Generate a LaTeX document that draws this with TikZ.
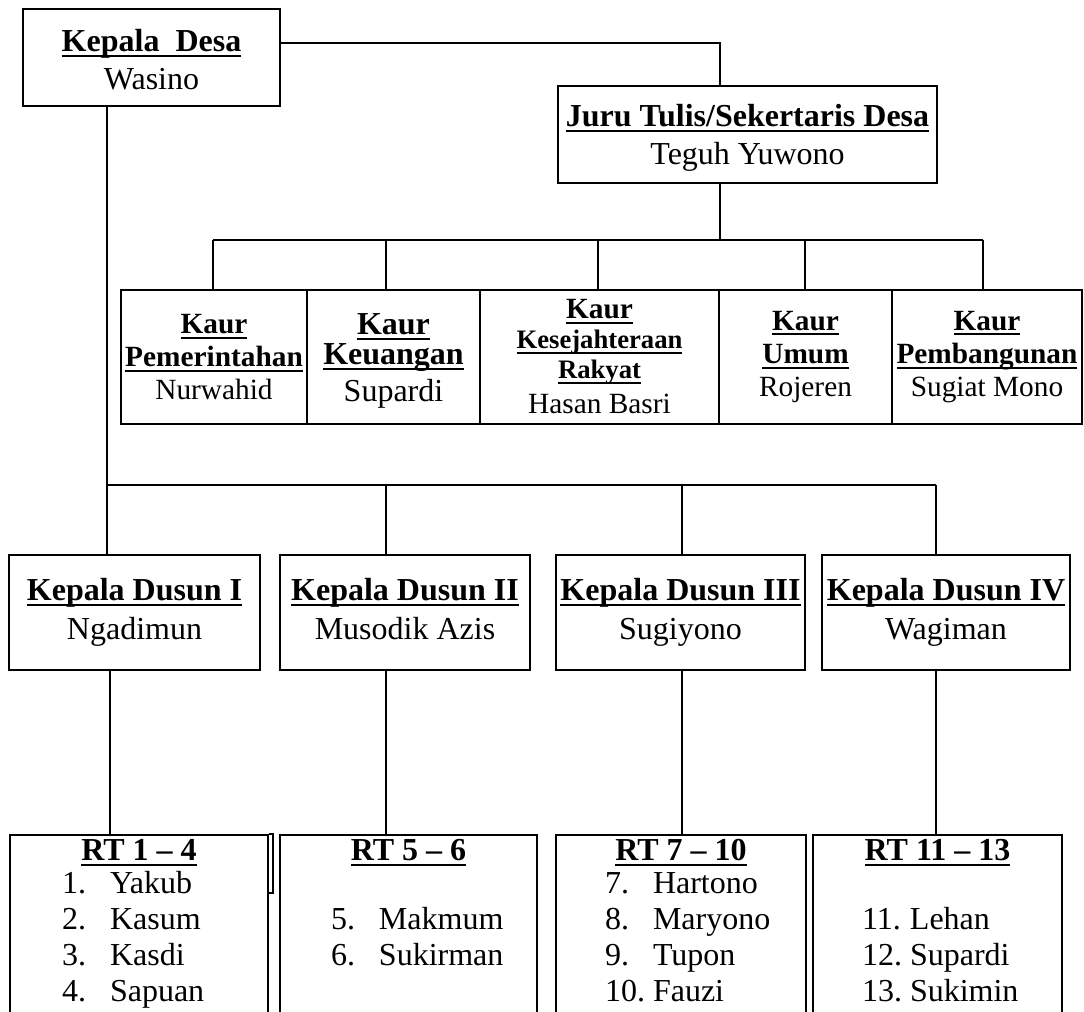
\documentclass[tikz,border=0pt]{standalone}
\usepackage{fontspec}
\setmainfont{Liberation Serif}
\newcommand{\garis}[1]{\setbox0\hbox{\textbf{#1}}\rlap{\rule[-4pt]{\wd0}{1.6pt}}\box0}
\newcommand{\baris}[3]{\makebox[#1][l]{\makebox[36pt][l]{#2}#3}}
\newcommand{\tinggi}[1]{\rule{0pt}{#1}}

\begin{document}
\begin{tikzpicture}[x=0.75pt,y=-0.75pt,
	kotak/.style={draw,line width=1.3pt,align=center,inner sep=0pt,font=\fontsize{24}{28.5}\selectfont},
	kaur/.style={kotak,minimum height=100.5pt,font=\fontsize{22}{24.5}\selectfont},
	dusun/.style={kotak,minimum height=86.25pt,font=\fontsize{24}{29}\selectfont},
	rt/.style={kotak,anchor=north,inner ysep=3.3pt,font=\fontsize{24}{27}\selectfont},
	garis/.style={black,line width=1.3pt}]
\useasboundingbox (0,0) rectangle (1084,1012);
\clip (0,0) rectangle (1084,1012);

\node[kotak,minimum width=192.75pt,minimum height=72.75pt] (desa) at (151.5,57.5) {\tinggi{20.5pt}\garis{Kepala\ \ Desa}\\Wasino};
\node[kotak,minimum width=284.25pt,minimum height=72.75pt] (sek) at (747.5,134.5) {\tinggi{22pt}\garis{Juru Tulis/Sekertaris Desa}\\Teguh Yuwono};

\node[kaur,minimum width=139.5pt] (k1) at (214,357) {\garis{Kaur}\\\garis{Pemerintahan}\\Nurwahid};
\node[kaur,minimum width=129.75pt,font=\fontsize{24}{25}\selectfont] (k2) at (393.5,357) {\tinggi{22pt}\garis{Kaur}\\[-2.5pt]\garis{Keuangan}\\[2.75pt]Supardi};
\node[kaur,minimum width=179.25pt] (k3) at (599.5,357) {\garis{Kaur}\\[-2pt]{\fontsize{20}{22}\selectfont\garis{Kesejahteraan}}\\[-2pt]{\fontsize{20}{22}\selectfont\garis{Rakyat}}\\[1.75pt]Hasan Basri};
\node[kaur,minimum width=129.75pt,font=\fontsize{22}{25}\selectfont] (k4) at (805.5,357) {\garis{Kaur}\\\garis{Umum}\\Rojeren};
\node[kaur,minimum width=142.5pt,font=\fontsize{22}{25}\selectfont] (k5) at (987,357) {\garis{Kaur}\\\garis{Pembangunan}\\Sugiat Mono};

\node[dusun,minimum width=188.25pt] (d1) at (134.5,612.5) {\strut\garis{Kepala Dusun I}\\Ngadimun\strut};
\node[dusun,minimum width=187.5pt] (d2) at (405,612.5) {\strut\garis{Kepala Dusun II}\\Musodik Azis\strut};
\node[dusun,minimum width=186.75pt] (d3) at (680.5,612.5) {\strut\garis{Kepala Dusun III}\\Sugiyono\strut};
\node[dusun,minimum width=186pt] (d4) at (946,612.5) {\strut\garis{Kepala Dusun IV}\\Wagiman\strut};

\node[rt,minimum width=193.5pt] (rt1) at (139,834) {\garis{RT 1 – 4}\\[-2.25pt]\baris{115.5pt}{1.}{Yakub}\\\baris{115.5pt}{2.}{Kasum}\\\baris{115.5pt}{3.}{Kasdi}\\\baris{115.5pt}{4.}{Sapuan}\\\strut};
\node[rt,minimum width=192.75pt] (rt2) at (408.5,834) {\garis{RT 5 – 6}\\[-2.25pt]\strut\\\baris{116.25pt}{5.}{Makmum}\\\baris{116.25pt}{6.}{Sukirman}\\\strut\\\strut};
\node[rt,minimum width=187.5pt] (rt3) at (681,834) {\garis{RT 7 – 10}\\[-2.25pt]\baris{114pt}{7.}{Hartono}\\\baris{114pt}{8.}{Maryono}\\\baris{114pt}{9.}{Tupon}\\\baris{114pt}{10.}{Fauzi}\\\strut};
\node[rt,minimum width=186.75pt] (rt4) at (937.5,834) {\garis{RT 11 – 13}\\[-2.25pt]\strut\\\baris{113.25pt}{11.}{Lehan}\\\baris{113.25pt}{12.}{Supardi}\\\baris{113.25pt}{13.}{Sukimin}\\\strut};
\draw[garis] (rt1.north east) -- ++(4,0) |- ++(-4,59);

\coordinate (jt) at (720,43);
\draw[garis] (desa.east |- jt) -| (sek.north -| jt);
\coordinate (kb) at (720,240);
\draw[garis] (sek.south -| kb) -- (kb);
\foreach \n/\x in {k1/213,k2/386,k3/598,k4/805,k5/983}{
	\coordinate (t\n) at (\x,240);
	\draw[garis] (t\n) -- (\n.north -| t\n);
}
\draw[garis] (tk1) -- (tk5);

\coordinate (db) at (107,485);
\draw[garis] (desa.south -| db) -- (d1.north -| db);
\foreach \n/\x in {d2/386,d3/682,d4/936}{
	\coordinate (t\n) at (\x,485);
	\draw[garis] (t\n) -- (\n.north -| t\n);
}
\draw[garis] (db) -- (td4);

\foreach \n/\m/\x in {d1/rt1/110,d2/rt2/386,d3/rt3/682,d4/rt4/936}{
	\coordinate (b\m) at (\x,700);
	\draw[garis] (\n.south -| b\m) -- (\m.north -| b\m);
}
\end{tikzpicture}
\end{document}
